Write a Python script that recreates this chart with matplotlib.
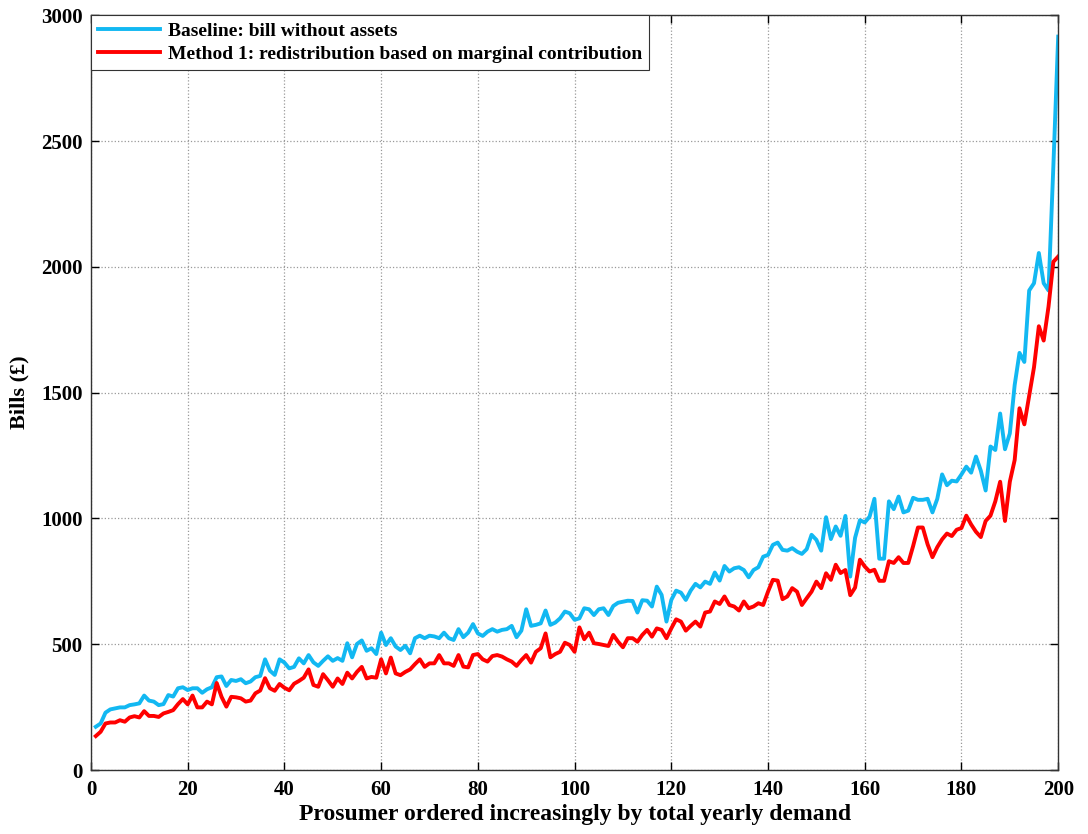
import numpy as np
import matplotlib
matplotlib.use("Agg")
import matplotlib.pyplot as plt

# prosumer index 1..200
prosumer = np.arange(1, 201)

# baseline bills (bill without assets)
baseline = [
    172, 185, 228, 241, 245, 249, 249, 258, 261, 265,
    296, 276, 272, 258, 262, 298, 292, 325, 329, 318,
    325, 325, 307, 321, 329, 369, 372, 334, 358, 354,
    361, 345, 352, 369, 374, 440, 395, 378, 440, 427,
    404, 410, 444, 424, 457, 428, 414, 434, 452, 434,
    445, 434, 504, 448, 501, 515, 474, 484, 461, 546,
    497, 524, 491, 477, 494, 464, 524, 534, 524, 534,
    531, 524, 546, 524, 517, 560, 528, 546, 580, 543,
    533, 550, 560, 550, 557, 560, 573, 528, 554, 639,
    573, 577, 583, 634, 577, 586, 603, 630, 623, 597,
    603, 643, 639, 616, 639, 643, 616, 652, 665, 669,
    673, 672, 626, 675, 673, 650, 729, 696, 590, 676,
    713, 705, 676, 713, 740, 726, 749, 740, 785, 753,
    811, 789, 802, 806, 795, 766, 795, 806, 848, 855,
    895, 904, 875, 872, 882, 868, 859, 878, 935, 915,
    872, 1005, 918, 968, 931, 1010, 769, 923, 993, 984,
    1007, 1078, 840, 840, 1068, 1037, 1087, 1024, 1031, 1082,
    1074, 1074, 1078, 1024, 1078, 1175, 1132, 1150, 1147, 1175,
    1206, 1182, 1246, 1190, 1111, 1286, 1272, 1417, 1275, 1338,
    1530, 1658, 1622, 1906, 1935, 2055, 1935, 1906, 2400, 2915,
]

# method 1: redistribution based on marginal contribution
method1 = [
    135, 152, 185, 189, 189, 198, 192, 209, 214, 209,
    234, 215, 215, 211, 225, 231, 238, 262, 282, 261,
    296, 249, 249, 272, 261, 346, 291, 252, 291, 289,
    285, 272, 276, 305, 316, 365, 325, 315, 342, 327,
    317, 343, 354, 367, 400, 338, 331, 381, 357, 331,
    364, 342, 387, 364, 390, 410, 364, 370, 367, 440,
    384, 447, 384, 377, 390, 400, 421, 440, 410, 424,
    424, 457, 424, 424, 414, 457, 411, 408, 457, 461,
    440, 431, 453, 457, 451, 440, 431, 414, 437, 457,
    427, 470, 484, 543, 448, 461, 470, 506, 497, 470,
    567, 520, 546, 504, 501, 497, 493, 537, 510, 488,
    524, 524, 510, 537, 557, 530, 563, 557, 524, 563,
    599, 590, 554, 573, 590, 570, 626, 630, 670, 660,
    690, 656, 650, 634, 670, 643, 650, 663, 656, 709,
    756, 753, 679, 690, 723, 709, 656, 683, 709, 749,
    723, 782, 756, 816, 783, 795, 695, 725, 836, 809,
    789, 796, 752, 752, 830, 823, 846, 823, 823, 890,
    964, 964, 897, 846, 886, 917, 940, 930, 955, 962,
    1011, 976, 947, 926, 990, 1011, 1068, 1146, 990, 1146,
    1232, 1438, 1374, 1487, 1601, 1764, 1707, 1842, 2020, 2041,
]

labels = ["Baseline: bill without assets",
          "Method 1: redistribution based on marginal contribution"]

plt.rcParams['font.family'] = ['Liberation Serif', 'DejaVu Serif']
plt.rcParams['font.weight'] = 'bold'

fig = plt.figure(figsize=(10.88, 8.34), dpi=100)
ax = fig.add_axes([0.0836, 0.0767, 0.889, 0.905])

ax.plot(prosumer, baseline, color='#12B8F2', lw=2.8, label=labels[0])
ax.plot(prosumer, method1, color='#FF0000', lw=2.8, label=labels[1])

ax.set_xlim(0, 200)
ax.set_ylim(0, 3000)
ax.set_xticks(np.arange(0, 201, 20))
ax.set_yticks(np.arange(0, 3001, 500))
ax.tick_params(direction='in', top=True, right=True, labelsize=15, length=6, width=1)
ax.tick_params(axis='x', pad=7)
ax.tick_params(axis='y', pad=6)
for lbl in ax.get_xticklabels() + ax.get_yticklabels():
    lbl.set_fontweight('bold')
ax.grid(True, linestyle=':', color='#999999', lw=0.9)
for s in ax.spines.values():
    s.set_color('#333333')
    s.set_linewidth(1)

ax.set_xlabel('Prosumer ordered increasingly by total yearly demand', fontsize=17, fontweight='bold', labelpad=3)
ax.set_ylabel('Bills (£)', fontsize=16, fontweight='bold', labelpad=8)

leg = ax.legend(loc='upper left', prop={'weight': 'bold', 'size': 14},
                fancybox=False, edgecolor='#333333', framealpha=1,
                borderaxespad=0.0, handlelength=3.2, borderpad=0.35, labelspacing=0.3, handletextpad=0.4)
leg.get_frame().set_linewidth(0.8)

fig.savefig('out.png', dpi=100)
